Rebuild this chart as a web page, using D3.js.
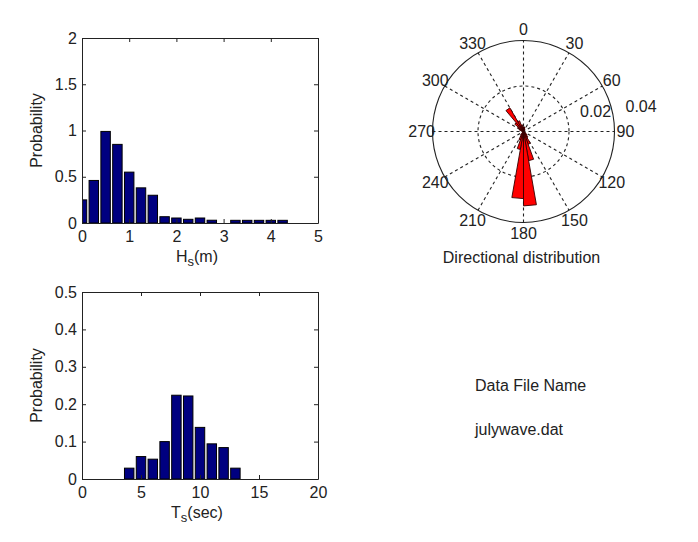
<!DOCTYPE html>
<html>
<head>
<meta charset="utf-8">
<script src="https://cdn.jsdelivr.net/npm/d3@7"></script>
<style>
  body { margin: 0; background: #fff; }
  svg { display: block; font-family: "Liberation Sans", Arial, sans-serif; }
</style>
</head>
<body>
<svg id="chart" width="698" height="542"></svg>
<script>
// wave height histogram (bin centres in m, probability density)
const hsBins = [0, 0.25, 0.5, 0.75, 1, 1.25, 1.5, 1.75, 2, 2.25, 2.5, 2.75, 3, 3.25, 3.5, 3.75, 4, 4.25];
const hsProb = [0.25, 0.46, 0.99, 0.85, 0.55, 0.38, 0.30, 0.068, 0.054, 0.04, 0.054, 0.03, 0, 0.029, 0.029, 0.029, 0.029, 0.029];
const hsTicksX = [0, 1, 2, 3, 4, 5];
const hsTicksY = [0, 0.5, 1, 1.5, 2];

// wave period histogram (bin centres in sec)
const tsBins = [4, 5, 6, 7, 8, 9, 10, 11, 12, 13];
const tsProb = [0.029, 0.06, 0.053, 0.10, 0.224, 0.222, 0.138, 0.094, 0.084, 0.029];
const tsTicksX = [0, 5, 10, 15, 20];
const tsTicksY = [0, 0.1, 0.2, 0.3, 0.4, 0.5];

// directional rose, 10 degree bins (start angle, compass, clockwise from north)
const dirBinStart = [0, 10, 20, 30, 40, 50, 60, 70, 80, 90, 100, 110, 120, 130, 140, 150, 160, 170,
  180, 190, 200, 210, 220, 230, 240, 250, 260, 270, 280, 290, 300, 310, 320, 330, 340, 350];
const dirProb = [0.002, 0.002, 0.001, 0.001, 0, 0, 0, 0, 0, 0, 0, 0, 0.001, 0.002, 0.003, 0.006, 0.013, 0.0327,
  0.0295, 0.008, 0.004, 0.002, 0.001, 0, 0, 0, 0, 0, 0.001, 0.002, 0.003, 0.005, 0.012, 0.005, 0.003, 0.002];
const dirAngleTicks = [0, 30, 60, 90, 120, 150, 180, 210, 240, 270, 300, 330];
const dirRadiusTicks = [0.02, 0.04];

const textColor = '#222';
const svg = d3.select('#chart');

function histogram(box, bins, probs, binStep, xTicks, yTicks, xLabel, xSub, xRest, clipId) {
  const x = d3.scaleLinear([xTicks[0], xTicks[xTicks.length - 1]], [box.left, box.right]);
  const y = d3.scaleLinear([yTicks[0], yTicks[yTicks.length - 1]], [box.bottom, box.top]);

  svg.append('clipPath').attr('id', clipId)
    .append('rect')
    .attr('x', box.left).attr('y', box.top)
    .attr('width', box.right - box.left).attr('height', box.bottom - box.top);

  const barW = binStep * 0.8;
  svg.append('g')
    .attr('clip-path', `url(#${clipId})`)
    .selectAll('rect')
    .data(bins.map((b, i) => ({ b, p: probs[i] })).filter((d) => d.p > 0))
    .join('rect')
    .attr('x', (d) => x(d.b - barW / 2))
    .attr('width', (d) => x(d.b + barW / 2) - x(d.b - barW / 2))
    .attr('y', (d) => y(d.p))
    .attr('height', (d) => y(0) - y(d.p))
    .attr('fill', '#000080')
    .attr('stroke', '#000')
    .attr('stroke-width', 1);

  const fmt = d3.format('~g');
  const styleAxis = (g) => {
    g.attr('font-family', null).attr('font-size', 16);
    g.selectAll('text').attr('fill', textColor);
    g.selectAll('line, path').attr('stroke', '#222');
  };

  svg.append('g')
    .attr('transform', `translate(0,${box.bottom})`)
    .call(d3.axisBottom(x).tickValues(xTicks).tickFormat(fmt).tickSize(-4).tickSizeOuter(0).tickPadding(8))
    .call(styleAxis);
  svg.append('g')
    .attr('transform', `translate(0,${box.top})`)
    .call(d3.axisTop(x).tickValues(xTicks).tickFormat('').tickSize(-4).tickSizeOuter(0))
    .call(styleAxis);
  svg.append('g')
    .attr('transform', `translate(${box.left},0)`)
    .call(d3.axisLeft(y).tickValues(yTicks).tickFormat(fmt).tickSize(-4).tickSizeOuter(0).tickPadding(5))
    .call(styleAxis);
  svg.append('g')
    .attr('transform', `translate(${box.right},0)`)
    .call(d3.axisRight(y).tickValues(yTicks).tickFormat('').tickSize(-4).tickSizeOuter(0))
    .call(styleAxis);

  const lab = svg.append('text')
    .attr('x', (box.left + box.right) / 2 - 3)
    .attr('y', box.bottom + 39)
    .attr('text-anchor', 'middle')
    .attr('font-size', 16)
    .attr('fill', textColor);
  lab.append('tspan').text(xLabel);
  lab.append('tspan').attr('dy', 4).attr('font-size', 13).text(xSub);
  lab.append('tspan').attr('dy', -4).text(xRest);

  svg.append('text')
    .attr('transform', `translate(42,${(box.top + box.bottom) / 2}) rotate(-90)`)
    .attr('text-anchor', 'middle')
    .attr('font-size', 16)
    .attr('fill', textColor)
    .text('Probability');
}

histogram({ left: 82, right: 318, top: 38, bottom: 223 }, hsBins, hsProb, 0.25,
  hsTicksX, hsTicksY, 'H', 's', '(m)', 'clip-hs');
histogram({ left: 82, right: 318, top: 292, bottom: 479 }, tsBins, tsProb, 1,
  tsTicksX, tsTicksY, 'T', 's', '(sec)', 'clip-ts');

// polar rose
const cx = 523.5;
const cy = 131.5;
const R = 91;
const r = d3.scaleLinear([0, 0.04], [0, R]);
const rad = (deg) => deg * Math.PI / 180;
const polar = svg.append('g').attr('transform', `translate(${cx},${cy})`);

// dashed spokes and ring
polar.append('g')
  .selectAll('line')
  .data(dirAngleTicks.filter((a) => a < 180))
  .join('line')
  .attr('x1', (a) => -R * Math.sin(rad(a)))
  .attr('y1', (a) => R * Math.cos(rad(a)))
  .attr('x2', (a) => R * Math.sin(rad(a)))
  .attr('y2', (a) => -R * Math.cos(rad(a)))
  .attr('stroke', '#222')
  .attr('stroke-width', 1.1)
  .attr('stroke-dasharray', '3,3');

polar.append('g')
  .selectAll('circle')
  .data(dirRadiusTicks)
  .join('circle')
  .attr('r', (d) => r(d))
  .attr('fill', 'none')
  .attr('stroke', '#222')
  .attr('stroke-width', 1.1)
  .attr('stroke-dasharray', (d, i) => (i === dirRadiusTicks.length - 1 ? null : '3,3'));

// rose wedges
const wedge = d3.lineRadial().angle((d) => d[0]).radius((d) => d[1]).curve(d3.curveLinearClosed);
polar.append('g')
  .selectAll('path')
  .data(dirBinStart.map((a, i) => ({ a, p: dirProb[i] })).filter((d) => d.p > 0))
  .join('path')
  .attr('d', (d) => wedge([[0, 0], [rad(d.a), r(d.p)], [rad(d.a + 10), r(d.p)]]))
  .attr('fill', '#f00')
  .attr('stroke', '#300')
  .attr('stroke-width', 0.9)
  .attr('stroke-linejoin', 'miter');

// angle labels
polar.append('g')
  .selectAll('text')
  .data(dirAngleTicks)
  .join('text')
  .attr('x', (a) => R * 1.12 * Math.sin(rad(a)))
  .attr('y', (a) => -R * 1.12 * Math.cos(rad(a)))
  .attr('dy', '0.36em')
  .attr('text-anchor', 'middle')
  .attr('font-size', 16)
  .attr('fill', textColor)
  .text((a) => a);

// radius labels
polar.append('g')
  .selectAll('text')
  .data(dirRadiusTicks)
  .join('text')
  .attr('x', (d) => r(d) + 11)
  .attr('y', (d) => -(r(d) * 0.1 + 16))
  .attr('dy', '0.36em')
  .attr('font-size', 16)
  .attr('fill', textColor)
  .text((d) => d);

svg.append('text')
  .attr('x', cx - 2).attr('y', 263)
  .attr('text-anchor', 'middle')
  .attr('font-size', 16)
  .attr('fill', textColor)
  .text('Directional distribution');

svg.append('text')
  .attr('x', 475).attr('y', 391)
  .attr('font-size', 16)
  .attr('fill', textColor)
  .text('Data File Name');

svg.append('text')
  .attr('x', 475).attr('y', 435)
  .attr('font-size', 16)
  .attr('fill', textColor)
  .text('julywave.dat');
</script>
</body>
</html>
